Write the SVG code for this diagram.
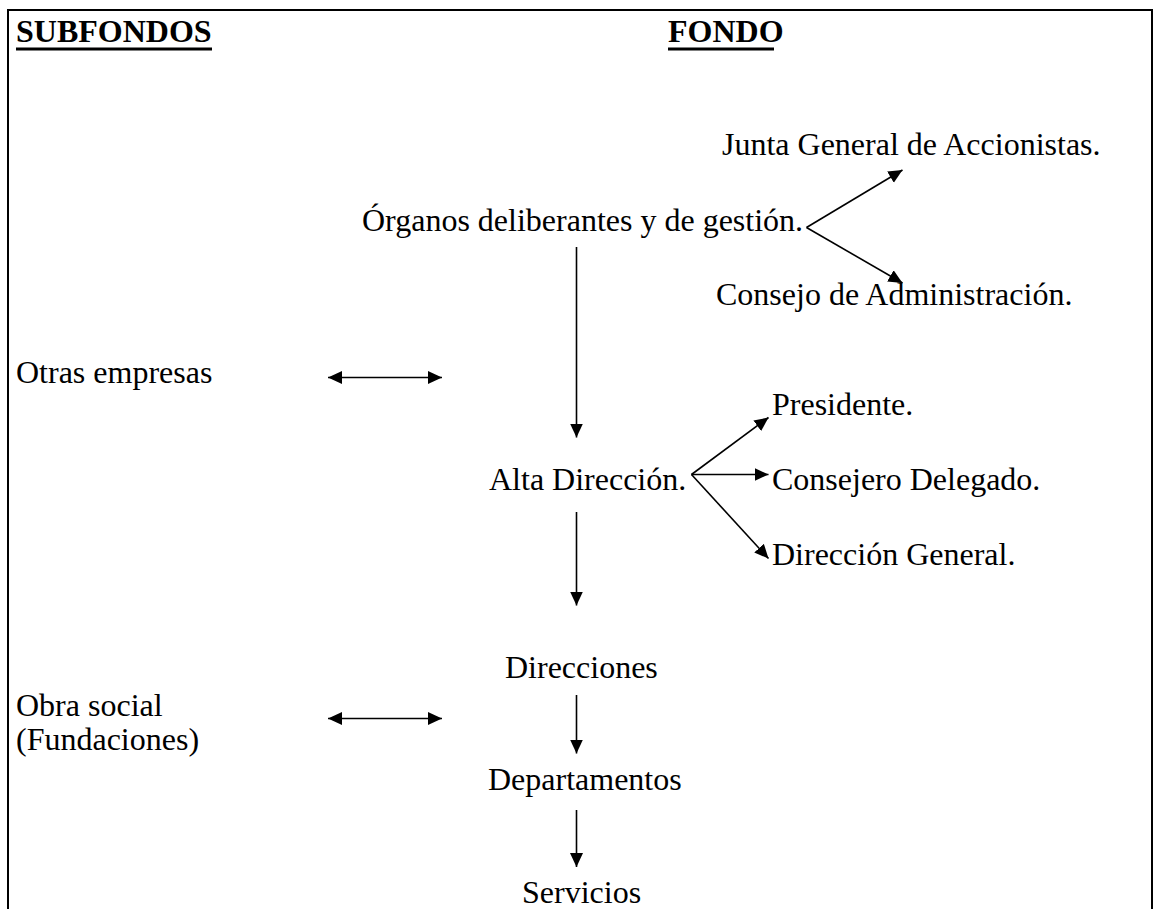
<svg xmlns="http://www.w3.org/2000/svg" width="1154" height="909" viewBox="0 0 1154 909">
<style>
.t{font-family:"Liberation Serif","Times New Roman",serif;font-size:32px;fill:#000}
.h{font-family:"Liberation Serif","Times New Roman",serif;font-size:32px;font-weight:bold;fill:#000}
.c{stroke:#000;stroke-width:1.6;fill:none}
.b{stroke:#000;stroke-width:2;fill:none}
</style>
<defs>
<marker id="ah" markerUnits="userSpaceOnUse" markerWidth="15" markerHeight="14" refX="14" refY="6.5" orient="auto-start-reverse" viewBox="0 0 15 13">
<path d="M0,0 L14,6.5 L0,13 Z" fill="#000"/>
</marker>
</defs>
<g id="frame">
<path class="b" d="M8,909 V10 H1152 V909"/>
</g>
<g id="headers">
<text class="h" x="16" y="42">SUBFONDOS</text>
<line x1="16" y1="49" x2="212" y2="49" stroke="#000" stroke-width="3"/>
<text class="h" x="668" y="42">FONDO</text>
<line x1="668" y1="49" x2="774" y2="49" stroke="#000" stroke-width="3"/>
</g>
<g id="n-junta"><text class="t" x="722" y="155">Junta General de Accionistas.</text></g>
<g id="n-organos"><text class="t" x="362" y="231">Órganos deliberantes y de gestión.</text></g>
<g id="n-consejo"><text class="t" x="716" y="305">Consejo de Administración.</text></g>
<g id="n-otras"><text class="t" x="16" y="383">Otras empresas</text></g>
<g id="n-presidente"><text class="t" x="772" y="415">Presidente.</text></g>
<g id="n-alta"><text class="t" x="489" y="490">Alta Dirección.</text></g>
<g id="n-consejero"><text class="t" x="772" y="490">Consejero Delegado.</text></g>
<g id="n-direccion-general"><text class="t" x="772" y="565">Dirección General.</text></g>
<g id="n-direcciones"><text class="t" x="505" y="678">Direcciones</text></g>
<g id="n-obra"><text class="t" x="16" y="716">Obra social</text><text class="t" x="16" y="750">(Fundaciones)</text></g>
<g id="n-departamentos"><text class="t" x="488" y="790">Departamentos</text></g>
<g id="n-servicios"><text class="t" x="522" y="903">Servicios</text></g>
<g id="connectors">
<line class="c" x1="806.5" y1="227.5" x2="902.5" y2="170" marker-end="url(#ah)"/>
<line class="c" x1="806.5" y1="227.5" x2="902.5" y2="283" marker-end="url(#ah)"/>
<line class="c" x1="576.5" y1="247" x2="576.5" y2="437.5" marker-end="url(#ah)"/>
<line class="c" x1="328" y1="377.5" x2="442" y2="377.5" marker-start="url(#ah)" marker-end="url(#ah)"/>
<line class="c" x1="691.5" y1="474.5" x2="768.5" y2="417.5" marker-end="url(#ah)"/>
<line class="c" x1="691.5" y1="474.5" x2="768.5" y2="474.5" marker-end="url(#ah)"/>
<line class="c" x1="691.5" y1="474.5" x2="768.5" y2="558.5" marker-end="url(#ah)"/>
<line class="c" x1="576.5" y1="512" x2="576.5" y2="605.5" marker-end="url(#ah)"/>
<line class="c" x1="328" y1="718.5" x2="442" y2="718.5" marker-start="url(#ah)" marker-end="url(#ah)"/>
<line class="c" x1="576.5" y1="695" x2="576.5" y2="753.5" marker-end="url(#ah)"/>
<line class="c" x1="576.5" y1="810" x2="576.5" y2="867" marker-end="url(#ah)"/>
</g>
</svg>
